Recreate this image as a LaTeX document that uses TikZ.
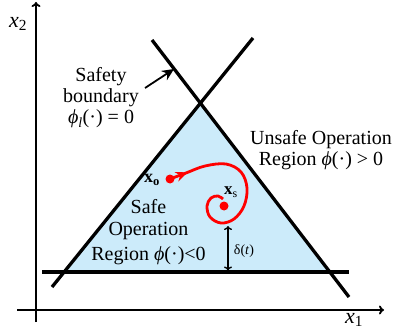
\documentclass[tikz,border=0pt]{standalone}
\usepackage{fontspec}
\setmainfont{Liberation Serif}
\usetikzlibrary{arrows.meta,decorations.markings}
\definecolor{safeblue}{RGB}{204,235,250}
\begin{document}
\begin{tikzpicture}[x=1pt,y=-1pt,
  bline/.style={line width=3.3pt},
  axisline/.style={line width=1.8pt,-{To[length=5pt,width=9pt]}},
  lbl/.style={font=\fontsize{20}{21}\selectfont, align=center, inner sep=0pt},
  traj/.style={red, line width=2.8pt},
  sdot/.style={circle, fill=red, inner sep=0pt, minimum size=9pt},
  trajarrow/.style={postaction={decorate},decoration={markings,
     mark=at position 0.1 with {\arrow{Stealth[length=12pt,width=10pt,inset=4pt]}}}}]
\useasboundingbox (0,0) rectangle (396,334);
% triangle region
\fill[safeblue] (200.5,103) -- (64.1,272) -- (329.8,272) -- cycle;
% axes
\coordinate (yb) at (36,322);
\coordinate (yt) at (36,2);
\coordinate (xl) at (17,310);
\coordinate (xr) at (384,310);
\draw[axisline] (yb) -- (yt);
\draw[axisline] (xl) -- (xr);
\node[font=\fontsize{22}{22}\selectfont, inner sep=0pt] (lx2) at (18,24) {\textit{x}\textsubscript{2}};
\node[font=\fontsize{22}{22}\selectfont, inner sep=0pt] (lx1) at (354,320) {\textit{x}\textsubscript{1}};
% boundary lines
\coordinate (a1) at (152,40);
\coordinate (a2) at (349,297);
\coordinate (b1) at (253,38);
\coordinate (b2) at (52,287);
\coordinate (h1) at (42,272);
\coordinate (h2) at (349,272);
\draw[bline] (a1) -- (a2);
\draw[bline] (b1) -- (b2);
\draw[bline] (h1) -- (h2);
% safety boundary label
\node[lbl] (sb) at (101,98) {Safety\\boundary\\\textit{ϕ\textsubscript{l}}(·) = 0};
\coordinate (sbtail) at (145,88);
\coordinate (sbtip) at (174,69);
\draw[line width=1.8pt,-{Stealth[length=12pt,width=11pt]}] (sbtail) -- (sbtip);
% unsafe label
\node[lbl] (unsafe) at (321,150) {Unsafe Operation\\Region \textit{ϕ}(·) \textgreater{} 0};
% safe label
\node[lbl, font=\fontsize{20}{22}\selectfont] (safe) at (148.5,232) {Safe\\Operation\\[3pt]Region \textit{ϕ}(·)\textless0};
% trajectory
\node[sdot] (xo) at (170,179) {};
\node[sdot] (xs) at (224,206) {};
\draw[traj, trajarrow] plot[smooth, tension=0.6] coordinates {(170,179) (186,173) (205,166) (226,164) (241,172) (247,188) (244,206) (234,219) (221,223) (210,217) (207,206) (211,198) (218,196) (223,199)};
\node[inner sep=0pt, font=\fontsize{18}{18}\selectfont] (lxo) at (152,180) {\textbf{x\textsubscript{o}}};
\node[inner sep=0pt, font=\fontsize{17}{17}\selectfont] (lxs) at (231,192) {\textbf{x}\textsubscript{s}};
% delta
\coordinate (dtop) at (228,226);
\coordinate (dbot) at (228,270.5);
\draw[line width=1.4pt,{To[length=4pt,width=8pt]}-{To[length=4pt,width=8pt]}] (dtop) -- (dbot);
\node[inner sep=0pt, font=\fontsize{14}{14}\selectfont] (ldelta) at (244,251) {δ(\textit{t})};
\end{tikzpicture}
\end{document}
